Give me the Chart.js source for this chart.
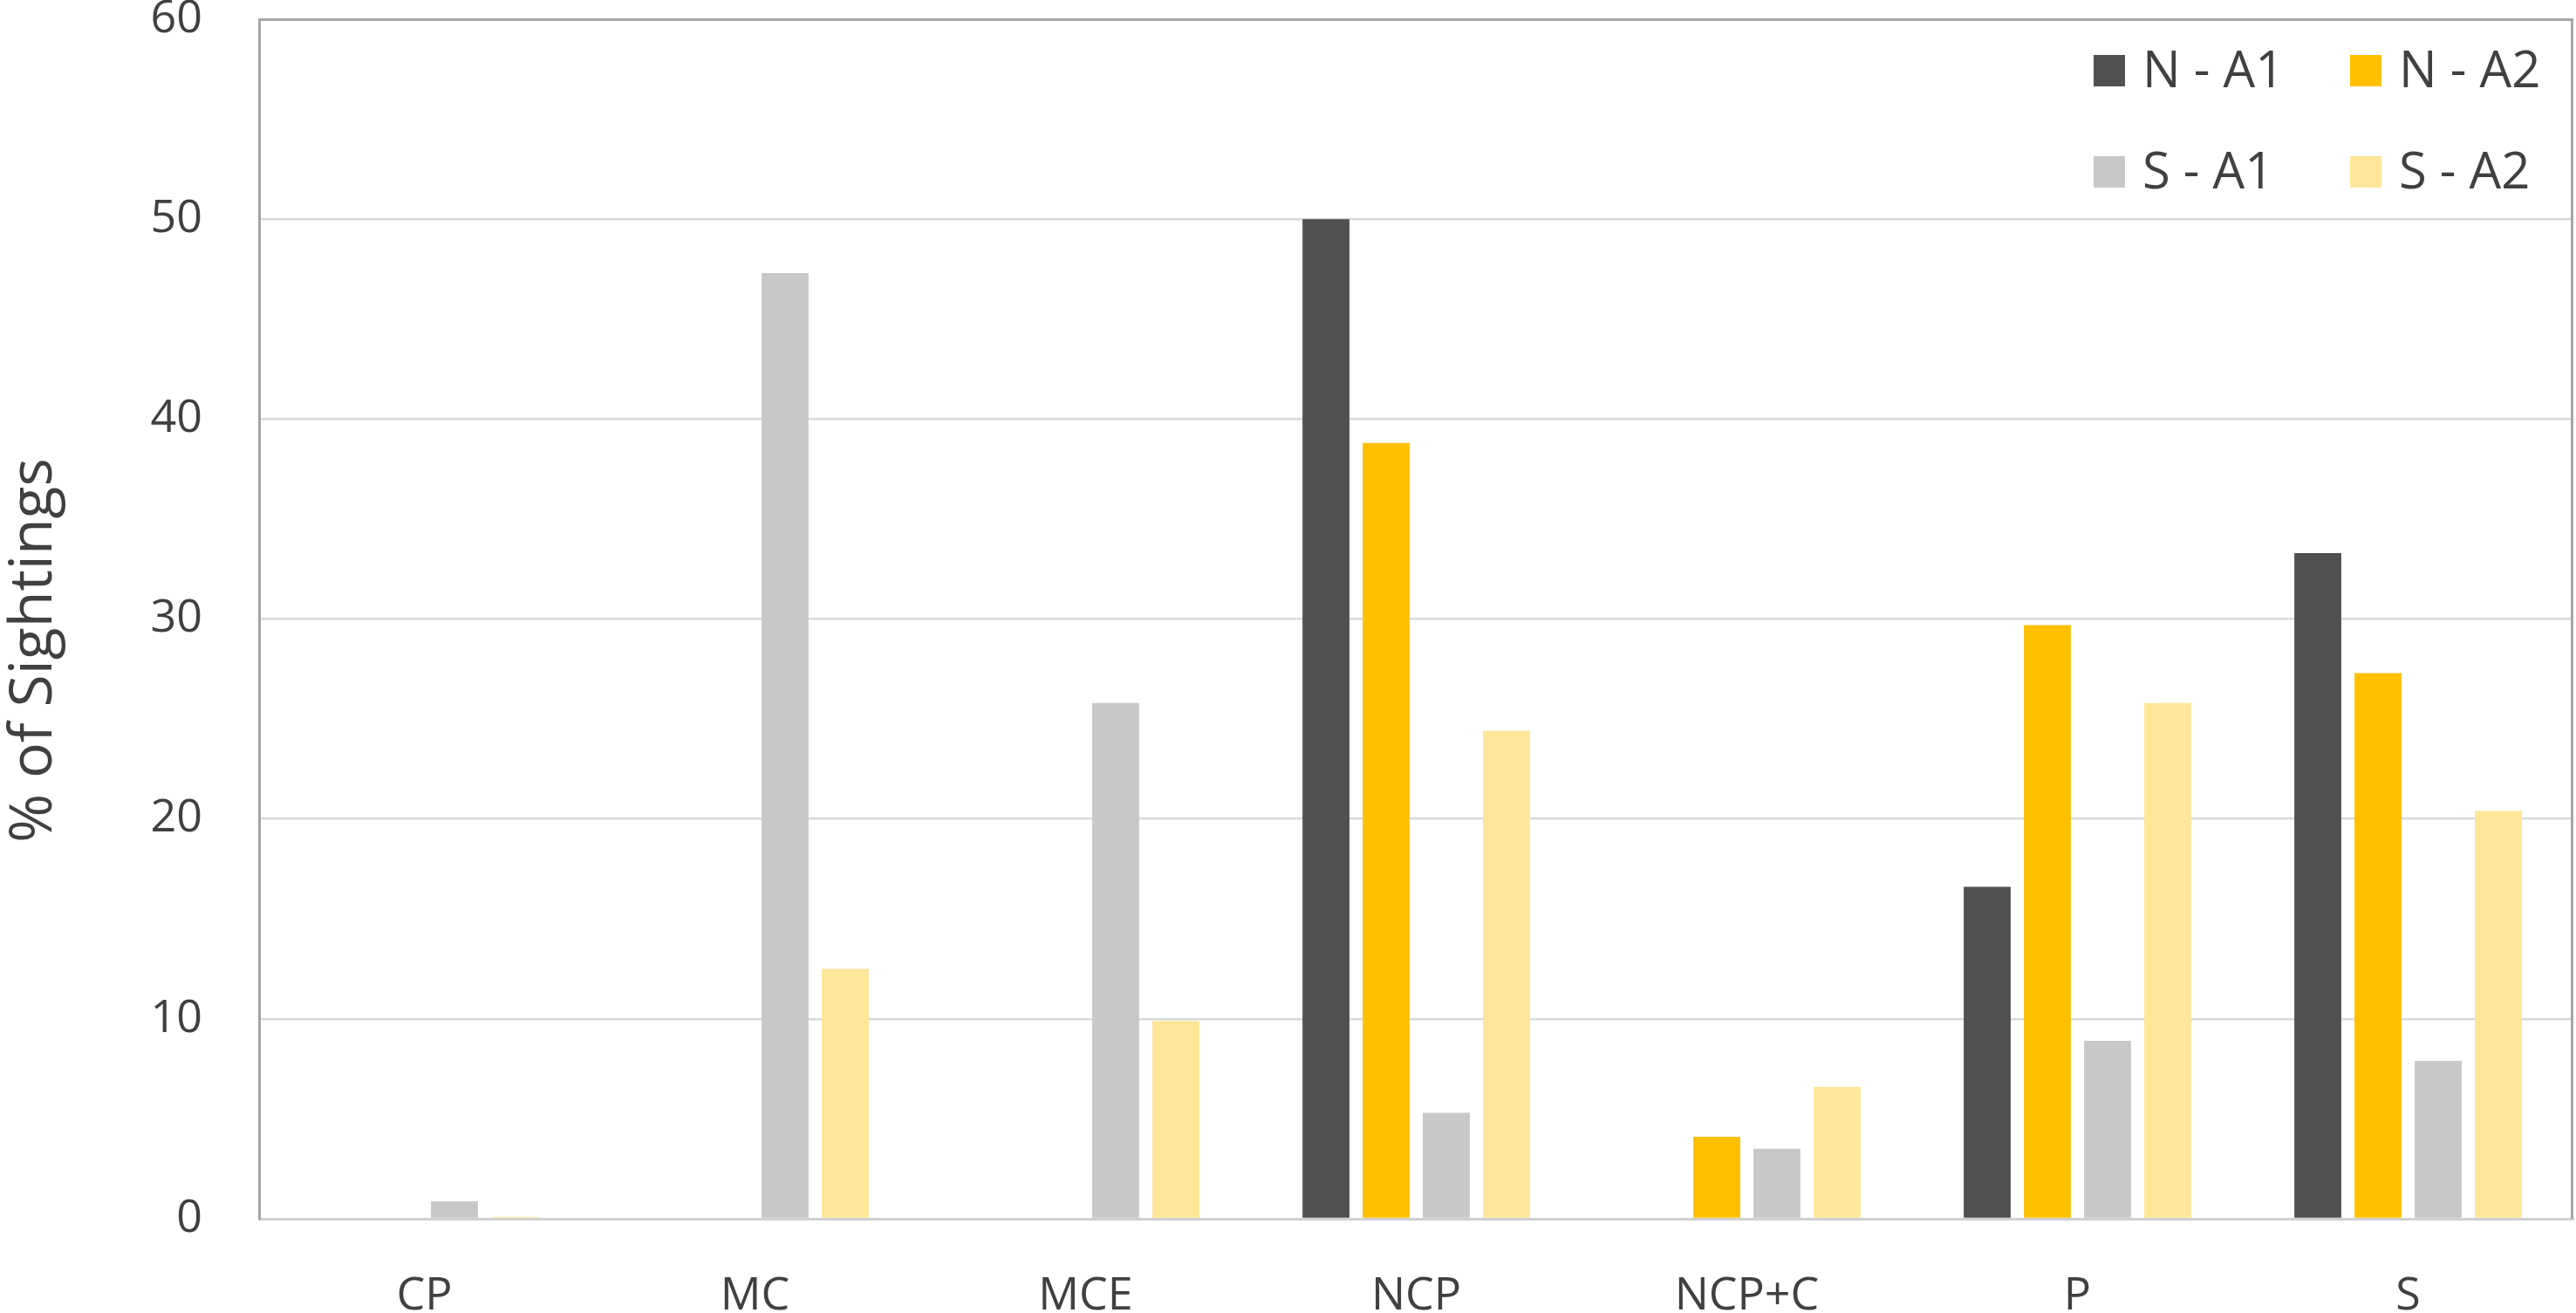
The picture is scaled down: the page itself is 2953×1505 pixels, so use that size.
<!doctype html>
<html>

<head>
  <script src="https://cdn.jsdelivr.net/npm/chart.js@4/dist/chart.umd.min.js"></script>
  <style>
    body { margin: 0; background: #fff; }
  </style>
</head>

<body>
  <canvas id="canvas" width="2953" height="1505"></canvas>
  <script>
    const categories = ['CP', 'MC', 'MCE', 'NCP', 'NCP+C', 'P', 'S'];
    const seriesNames = ['N - A1', 'N - A2', 'S - A1', 'S - A2'];
    const nA1 = [0, 0, 0, 50.0, 0, 16.6, 33.3];
    const nA2 = [0, 0, 0, 38.8, 4.1, 29.7, 27.3];
    const sA1 = [0.87, 47.3, 25.8, 5.3, 3.5, 8.9, 7.9];
    const sA2 = [0.1, 12.5, 9.9, 24.4, 6.6, 25.8, 20.4];
    const yTicks = [0, 10, 20, 30, 40, 50, 60];
    const yTitle = '% of Sightings';

    const colors = ['#505050', '#ffc000', '#c8c8c8', '#ffe699'];
    const textColor = '#404040';

    Chart.defaults.font.family = "'Open Sans', sans-serif";
    Chart.defaults.font.size = 52;
    Chart.defaults.color = textColor;

    // legend inside the plot (two columns), right frame line, y title
    const extras = {
      id: 'extras',
      afterDraw(chart) {
        const ctx = chart.ctx;
        const a = chart.chartArea;
        ctx.save();
        ctx.strokeStyle = '#a6a6a6';
        ctx.lineWidth = 3;
        ctx.beginPath();
        ctx.moveTo(a.right - 1.5, a.top);
        ctx.lineTo(a.right - 1.5, a.bottom);
        ctx.stroke();

        const colX = [a.right - 550, a.right - 256];
        const rowY = [a.top + 59, a.top + 175];
        ctx.font = "58px 'Open Sans', sans-serif";
        ctx.textBaseline = 'middle';
        chart.data.datasets.forEach((ds, i) => {
          const x = colX[i % 2];
          const y = rowY[Math.floor(i / 2)];
          ctx.fillStyle = ds.backgroundColor;
          ctx.fillRect(x, y - 18, 36, 36);
          ctx.fillStyle = textColor;
          ctx.fillText(ds.label, x + 56, y + 2);
        });

        // axis title, a bit below the plot middle like the original
        ctx.translate(40, (a.top + a.bottom) / 2 + 36);
        ctx.rotate(-Math.PI / 2);
        ctx.font = "68px 'Open Sans', sans-serif";
        ctx.textAlign = 'center';
        ctx.fillStyle = textColor;
        ctx.fillText(yTitle, 0, 0);
        ctx.restore();
      }
    };

    const seriesData = [nA1, nA2, sA1, sA2];

    new Chart(document.getElementById('canvas').getContext('2d'), {
      type: 'bar',
      data: {
        labels: categories,
        datasets: seriesNames.map((name, i) => ({
          label: name,
          data: seriesData[i],
          backgroundColor: colors[i],
          categoryPercentage: 0.728,
          barPercentage: 0.78
        }))
      },
      options: {
        responsive: false,
        animation: false,
        layout: { padding: { top: 22, right: 3, left: 0, bottom: 0 } },
        plugins: {
          legend: { display: false },
          tooltip: { enabled: false }
        },
        scales: {
          x: {
            grid: { display: false, drawTicks: false },
            border: { display: true, color: '#d0d0d0', width: 3 },
            ticks: { padding: 58, color: textColor },
            afterFit(scale) {
              scale.height = 108;
              scale.paddingLeft = 0;
              scale.paddingRight = 0;
            }
          },
          y: {
            min: 0,
            max: 60,
            afterBuildTicks(scale) { scale.ticks = yTicks.map((v) => ({ value: v })); },
            grid: {
              drawTicks: false,
              color: (c) => c.tick && c.tick.value === 60 ? '#a6a6a6' : '#d9d9d9',
              lineWidth: (c) => c.tick && c.tick.value === 60 ? 3 : 2.5
            },
            border: { display: true, color: '#a6a6a6', width: 3 },
            ticks: { padding: 65, color: textColor },
            title: { display: false },
            afterFit(scale) {
              scale.width = 297;
              scale.paddingTop = 0;
              scale.paddingBottom = 0;
            }
          }
        }
      },
      plugins: [extras]
    });
  </script>
</body>

</html>
